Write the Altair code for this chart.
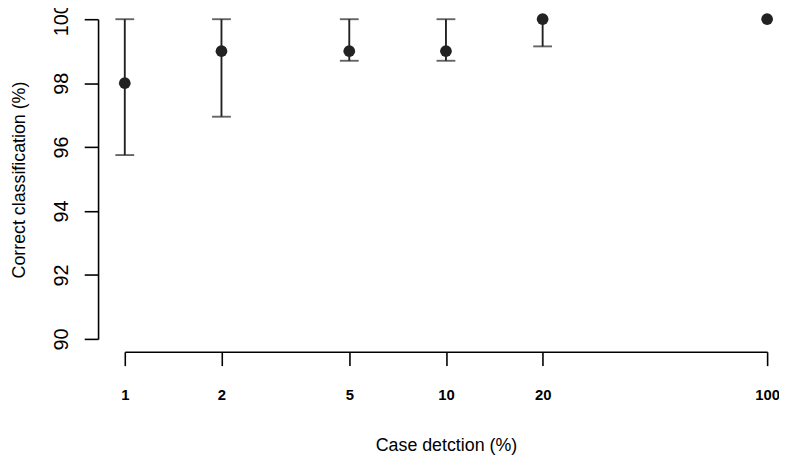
import altair as alt
import pandas as pd

detection = [1, 2, 5, 10, 20, 100]
correct = [98, 99, 99, 99, 100, 100]
lower = [95.75, 96.95, 98.7, 98.7, 99.15, 100]
upper = [100, 100, 100, 100, 100, 100]

df = pd.DataFrame({"det": detection, "val": correct, "lo": lower, "hi": upper})

caps = []
for d, v, lo, hi in zip(detection, correct, lower, upper):
    if lo < v:
        caps.append({"det": d, "cap": lo})
    if hi > v:
        caps.append({"det": d, "cap": hi})
caps_df = pd.DataFrame(caps)
bars_df = df[(df["lo"] < df["val"]) | (df["hi"] > df["val"])]

INK = "#222222"
FONT = "Liberation Sans"

xscale = alt.Scale(type="log", domain=[1, 100], nice=False)
yscale = alt.Scale(domain=[90, 100], nice=False, zero=False)

xaxis = alt.Axis(
    values=detection, format="d", offset=13, tickSize=14, tickWidth=1.6, domainWidth=1.6,
    domainColor="black", tickColor="black", labelColor="black", labelFont=FONT,
    labelFontSize=15, labelFontWeight="bold", labelPadding=22, grid=False,
    title="Case detction (%)", titleFont=FONT, titleFontSize=18, titleFontWeight="normal",
    titleColor="black", titleY=100, titleBaseline="alphabetic",
    labelFlush=False, labelOverlap=False,
)
yaxis = alt.Axis(
    values=[90, 92, 94, 96, 98, 100], offset=27, tickSize=14, tickWidth=1.6, domainWidth=1.6,
    domainColor="black", tickColor="black", labelColor="black", labelFont=FONT,
    labelFontSize=20, labelAngle=270, labelAlign="center", labelBaseline="alphabetic",
    labelPadding=17, grid=False, labelFlush=False, labelOverlap=False,
    title="Correct classification (%)", titleFont=FONT, titleFontSize=18,
    titleFontWeight="normal", titleColor="black", titleAngle=270, titleX=-74, titleY=162,
    titleBaseline="alphabetic", titleAlign="center",
)

base_x = alt.X("det:Q", scale=xscale, axis=xaxis)

rules = alt.Chart(bars_df).mark_rule(color=INK, strokeWidth=1.9).encode(
    x=base_x,
    y=alt.Y("lo:Q", scale=yscale, axis=yaxis),
    y2="hi:Q",
)
ticks = alt.Chart(caps_df).mark_tick(color=INK, thickness=1.9, size=19, orient="horizontal").encode(
    x=alt.X("det:Q", scale=xscale),
    y=alt.Y("cap:Q", scale=yscale),
)
points = alt.Chart(df).mark_circle(color=INK, opacity=1, size=140).encode(
    x=alt.X("det:Q", scale=xscale),
    y=alt.Y("val:Q", scale=yscale),
)

chart = (rules + ticks + points).properties(
    width=649,
    height=323,
    autosize=alt.AutoSizeParams(type="none"),
    padding={"left": 118, "top": 9, "right": 12, "bottom": 116},
).configure(background="white").configure_view(stroke=None)

chart.save("out.html", embed_options={"renderer": "svg", "actions": False})
